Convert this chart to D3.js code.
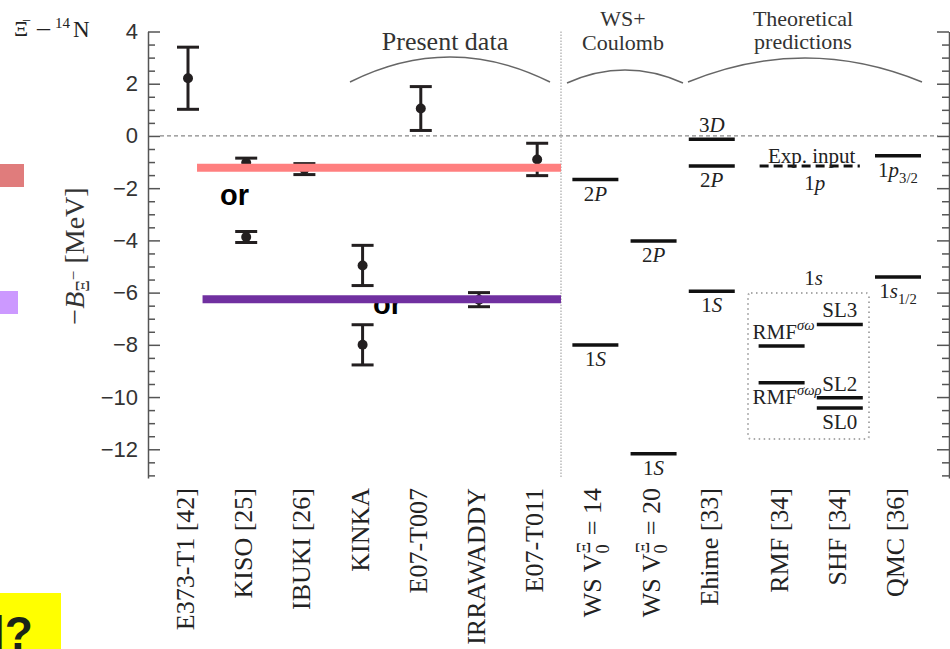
<!DOCTYPE html>
<html>
<head>
<meta charset="utf-8">
<title>Xi- 14N binding energies</title>
<script src="https://d3js.org/d3.v7.min.js"></script>
<style>
  body { margin: 0; background: #fff; }
  svg { display: block; font-family: "Liberation Serif", "Times New Roman", serif; }
</style>
</head>
<body>
<div id="vis"></div>
<script>
// ---- data (MeV) ----
var expNames = ["E373-T1 [42]", "KISO [25]", "IBUKI [26]", "KINKA", "E07-T007", "IRRAWADDY", "E07-T011"];
var expPos = [0, 1, 2, 3, 4, 5, 6];
var expVal = [[2.21], [-1.03, -3.87], [-1.27], [-4.96, -8.00], [1.05], [-6.27], [-0.90]];
var expErr = [[1.19], [0.18, 0.21], [0.21], [0.77, 0.77], [0.84], [0.27], [0.62]];

var thNames = ["WS V|_0|^Ξ| = 14", "WS V|_0|^Ξ| = 20", "Ehime [33]", "RMF [34]", "SHF [34]", "QMC [36]"];
var thPos = [7, 8, 9, 10.2, 11.2, 12.2];

var levelModel = [0, 0, 1, 1, 2, 2, 2, 3, 3, 4, 4, 4, 5, 5];
var levelVal = [-1.67, -8.01, -4.02, -12.17, -0.13, -1.15, -5.95, -8.04, -9.45, -7.22, -10.03, -10.42, -0.76, -5.40];
var levelLabel = ["2|~P", "1|~S", "2|~P", "1|~S", "3|~D", "2|~P", "1|~S", "RMF|^~σω", "RMF|^~σωρ", "SL3", "SL2", "SL0", "1|~p|_3/2", "1|~s|_1/2"];
var levelSide = ["below", "below", "below", "below", "above", "below", "below", "above", "below", "above", "above", "below", "below", "below"];

var expInput = -1.15;          // dashed "Exp. input" 1p level
var bandVal = [-1.22, -6.25];  // the two coloured guide lines
var bandColor = ["#ff7f7f", "#7030a0"];

var yMajor = [-12, -10, -8, -6, -4, -2, 0, 2, 4];
var yMinor = d3.range(-13, 4.01, 0.5).filter(function (d) { return yMajor.indexOf(d) < 0; });

// ---- setup ----
var W = 950, H = 649;
var svg = d3.select("#vis").append("svg").attr("width", W).attr("height", H);

var y = d3.scaleLinear().domain([-13.1, 4]).range([478, 31.5]);
var x = d3.scaleLinear().domain([0, 12.2]).range([188, 898]);
var ink = "#231f20";

// rich text: pieces split by "|", prefix ~ italic, _ subscript, ^ superscript
function rich(sel, str, fs) {
  var shift = 0, lastSub = null;
  str.split("|").forEach(function (p) {
    var italic = false, sub = false, sup = false;
    while ("~_^".indexOf(p[0]) >= 0 && p.length > 1) {
      if (p[0] == "~") italic = true;
      if (p[0] == "_") sub = true;
      if (p[0] == "^") sup = true;
      p = p.slice(1);
    }
    var target = sub ? 0.28 * fs : (sup ? -0.42 * fs : 0);
    var t = sel.append("tspan").text(p)
      .attr("dy", (target - shift) + "px")
      .style("font-size", (sub || sup ? 0.7 * fs : fs) + "px")
      .style("font-style", italic ? "italic" : "normal");
    if (sup && lastSub) t.attr("dx", -lastSub.node().getComputedTextLength() + "px");
    lastSub = sub ? t : null;
    shift = target;
  });
}

// ---- background annotations ----
svg.append("rect").attr("x", 0).attr("y", 164).attr("width", 24).attr("height", 23).attr("fill", "#e07c7c");
svg.append("rect").attr("x", 0).attr("y", 291).attr("width", 18).attr("height", 23).attr("fill", "#cc99ff");
svg.append("rect").attr("x", 0).attr("y", 593).attr("width", 61).attr("height", 56).attr("fill", "#ffff00");
svg.append("text").attr("x", -8).attr("y", 649).text("l?")
  .style("font-family", "'Liberation Sans', Arial, sans-serif").style("font-weight", "bold")
  .style("font-size", "46px").attr("fill", "#1a2418");

// ---- axes ----
var yAxis = svg.append("g").attr("transform", "translate(148,0)")
  .call(d3.axisLeft(y).tickValues(yMajor).tickSize(-12).tickSizeOuter(0).tickPadding(10)
    .tickFormat(d3.format("d")));
svg.append("g").attr("transform", "translate(148,0)")
  .call(d3.axisLeft(y).tickValues(yMinor).tickSize(-7).tickFormat(""))
  .call(function (g) { g.select(".domain").remove(); });
svg.append("g").attr("transform", "translate(949,0)")
  .call(d3.axisRight(y).tickValues(yMajor).tickSize(-12).tickSizeOuter(0).tickFormat(""));
svg.append("g").attr("transform", "translate(949,0)")
  .call(d3.axisRight(y).tickValues(yMinor).tickSize(-7).tickFormat(""))
  .call(function (g) { g.select(".domain").remove(); });
svg.selectAll(".domain, .tick line").attr("stroke", "#555").attr("stroke-width", 1.5);
yAxis.selectAll("text").attr("font-family", null).style("font-size", "22px").attr("fill", "#333");

// y label: −B_Ξ⁻ [MeV]
var yl = svg.append("text").attr("transform", "translate(84,256) rotate(-90)")
  .attr("text-anchor", "middle").attr("fill", "#333").style("font-size", "28px");
yl.append("tspan").text("−");
yl.append("tspan").text("B").style("font-style", "italic");
yl.append("tspan").text("Ξ").attr("dy", "5px").style("font-size", "18px");
yl.append("tspan").text("−").attr("dy", "-10px").style("font-size", "17px");
yl.append("tspan").text(" [MeV]").attr("dy", "5px");

// title Ξ⁻–¹⁴N
var tt = svg.append("g").attr("fill", "#222").style("font-size", "23px");
tt.append("text").attr("x", 14).attr("y", 36).style("font-size", "22px").text("Ξ");
tt.append("text").attr("x", 22).attr("y", 26).style("font-size", "16px").text("−");
tt.append("text").attr("x", 37).attr("y", 36).style("font-size", "26px").text("–");
tt.append("text").attr("x", 55).attr("y", 28).style("font-size", "15px").text("14");
tt.append("text").attr("x", 73).attr("y", 37).text("N");

// zero line and separator
svg.append("line").attr("x1", 160).attr("x2", 938).attr("y1", y(0)).attr("y2", y(0))
  .attr("stroke", "#888").attr("stroke-width", 1.2).attr("stroke-dasharray", "4,3");
svg.append("line").attr("x1", 561).attr("x2", 561).attr("y1", y(4)).attr("y2", y(-13.1))
  .attr("stroke", "#bbb").attr("stroke-width", 1.5).attr("stroke-dasharray", "1.5,1.5");

// group headings with arcs
function arc(x0, x1, yEnd, yPeak) {
  var cx = (x0 + x1) / 2, cy = 2 * yPeak - yEnd;
  svg.append("path").attr("d", "M" + x0 + "," + yEnd + "Q" + cx + "," + cy + " " + x1 + "," + yEnd)
    .attr("fill", "none").attr("stroke", "#666").attr("stroke-width", 1.5);
}
arc(350, 550, 82, 57);
arc(567, 683, 83, 70);
arc(688, 922, 82, 58);
svg.append("text").attr("x", 445).attr("y", 50).attr("text-anchor", "middle")
  .style("font-size", "26px").attr("fill", "#333").text("Present data");
[["WS+", 623, 26], ["Coulomb", 623, 50], ["Theoretical", 803, 26], ["predictions", 803, 49]].forEach(function (d) {
  svg.append("text").attr("x", d[1]).attr("y", d[2]).attr("text-anchor", "middle")
    .style("font-size", "22px").attr("fill", "#333").text(d[0]);
});

// "or" under the purple line
svg.append("text").attr("x", 373).attr("y", 314).text("or")
  .style("font-family", "'Liberation Sans', Arial, sans-serif").style("font-weight", "bold")
  .style("font-size", "29px").attr("fill", "#000");

// ---- experimental points with error bars ----
var pts = [];
expVal.forEach(function (vals, i) {
  vals.forEach(function (v, j) { pts.push({ pos: expPos[i], v: v, e: expErr[i][j] }); });
});
var eb = svg.append("g").selectAll("g").data(pts).join("g");
eb.append("line").attr("x1", function (d) { return x(d.pos); }).attr("x2", function (d) { return x(d.pos); })
  .attr("y1", function (d) { return y(d.v + d.e); }).attr("y2", function (d) { return y(d.v - d.e); })
  .attr("stroke", ink).attr("stroke-width", 3);
[1, -1].forEach(function (s) {
  eb.append("line").attr("x1", function (d) { return x(d.pos) - 11; }).attr("x2", function (d) { return x(d.pos) + 11; })
    .attr("y1", function (d) { return y(d.v + s * d.e); }).attr("y2", function (d) { return y(d.v + s * d.e); })
    .attr("stroke", ink).attr("stroke-width", 3);
});
eb.append("circle").attr("cx", function (d) { return x(d.pos); }).attr("cy", function (d) { return y(d.v); })
  .attr("r", 5).attr("fill", ink);

// ---- theoretical levels ----
var lv = svg.append("g").selectAll("g").data(levelVal).join("g");
lv.append("line")
  .attr("x1", function (d, i) { return x(thPos[levelModel[i]]) - 23; })
  .attr("x2", function (d, i) { return x(thPos[levelModel[i]]) + 23; })
  .attr("y1", function (d) { return y(d); }).attr("y2", function (d) { return y(d); })
  .attr("stroke", "#111").attr("stroke-width", 3.5);
lv.append("text")
  .attr("x", function (d, i) {
    var cx = x(thPos[levelModel[i]]);
    return levelModel[i] == 3 ? cx - 29 : cx;
  })
  .attr("y", function (d, i) { return y(d) + (levelSide[i] == "above" ? -7 : 21); })
  .attr("text-anchor", function (d, i) { return levelModel[i] == 3 ? "start" : "middle"; })
  .attr("fill", "#222")
  .each(function (d, i) { rich(d3.select(this), levelLabel[i], 21); });

// dashed experimental input level across RMF and SHF
svg.append("line").attr("x1", x(thPos[3]) - 22).attr("x2", x(thPos[4]) + 20)
  .attr("y1", y(expInput)).attr("y2", y(expInput))
  .attr("stroke", "#111").attr("stroke-width", 3).attr("stroke-dasharray", "9,5");
var midRS = (x(thPos[3]) + x(thPos[4])) / 2;
svg.append("text").attr("x", midRS + 1).attr("y", y(expInput) - 3).attr("text-anchor", "middle")
  .style("font-size", "21px").attr("fill", "#222").text("Exp. input");
var t1p = svg.append("text").attr("x", midRS + 4).attr("y", y(expInput) + 24).attr("text-anchor", "middle").attr("fill", "#222");
rich(t1p, "1|~p", 21);
var t1s = svg.append("text").attr("x", midRS + 3).attr("y", 285).attr("text-anchor", "middle").attr("fill", "#222");
rich(t1s, "1|~s", 21);
// dotted box around the 1s RMF/SHF levels
svg.append("rect").attr("x", 748).attr("y", 293).attr("width", 121).attr("height", 146).attr("rx", 3)
  .attr("fill", "none").attr("stroke", "#aaa").attr("stroke-width", 2).attr("stroke-dasharray", "1.5,3.5");

// ---- coloured guide lines ----
svg.append("g").selectAll("line").data(bandVal).join("line")
  .attr("x1", function (d, i) { return x(i == 0 ? 0.155 : 0.25); }).attr("x2", 561)
  .attr("y1", function (d) { return y(d); }).attr("y2", function (d) { return y(d); })
  .attr("stroke", function (d, i) { return bandColor[i]; }).attr("stroke-width", 8);

svg.append("text").attr("x", 220).attr("y", 205).text("or")
  .style("font-family", "'Liberation Sans', Arial, sans-serif").style("font-weight", "bold")
  .style("font-size", "29px").attr("fill", "#000");

// ---- category labels ----
var cats = expNames.map(function (n, i) { return { name: n, pos: expPos[i] }; })
  .concat(thNames.map(function (n, i) { return { name: n, pos: thPos[i] }; }));
svg.append("g").selectAll("text").data(cats).join("text")
  .attr("transform", function (d) { return "translate(" + (x(d.pos) + 6) + ",488) rotate(-90)"; })
  .attr("text-anchor", "end").attr("fill", "#222")
  .each(function (d) { rich(d3.select(this), d.name, 26); });
</script>
</body>
</html>
